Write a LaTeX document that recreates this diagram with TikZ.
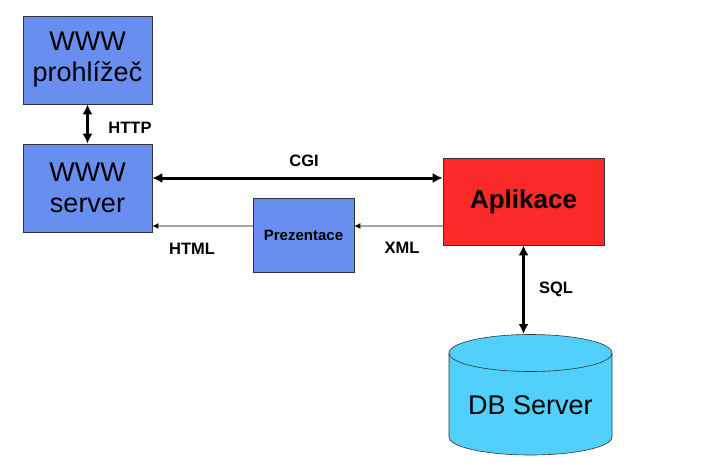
\documentclass[tikz,border=0pt]{standalone}
\usepackage{fontspec}
\setmainfont{Liberation Sans}
\usetikzlibrary{arrows.meta}
\usetikzlibrary{calc}
\usetikzlibrary{positioning}
\definecolor{cornflower}{RGB}{104, 142, 240}
\definecolor{scarlet}{RGB}{250, 42, 40}
\definecolor{skyblue}{RGB}{80, 208, 250}
\definecolor{silver}{RGB}{165, 165, 165}

\begin{document}
\begin{tikzpicture}[x=1pt, y=1pt,
    box/.style={draw=black!80, line width=0.6pt, inner sep=0pt, align=center},
    bigtext/.style={font=\fontsize{27}{31}\selectfont},
    tag/.style={font=\fontsize{16.5}{19}\selectfont\bfseries},
    thickarrow/.style={{Latex[length=10pt,width=10pt]}-{Latex[length=10pt,width=10pt]}, line width=3pt},
    thinarrow/.style={-{Latex[length=6pt,width=6pt,color=black]}, draw=silver, line width=1.3pt}]
            \useasboundingbox (0,0) rectangle (722,-464);
            % boxes
            \node[box, fill=cornflower, minimum width=129, minimum height=88, bigtext]        (browser)   at ( 87.5, -60.0) {WWW\\prohlížeč};
            \node[box, fill=cornflower, minimum width=129, minimum height=88, bigtext]        (webserver) at ( 87.5,-188.0) {WWW\\server};
            \node[box, fill=cornflower, minimum width=101, minimum height=74, font=\fontsize{15}{17}\selectfont\bfseries]
                                                                                              (prez)      at (303.5,-235.0) {Prezentace};
            \node[box, fill=scarlet,    minimum width=161, minimum height=87, font=\fontsize{26}{30}\selectfont\bfseries]
                                                                                              (app)       at (523.5,-201.5) {Aplikace};
            % database cylinder
            \filldraw[draw=black!80, fill=skyblue, line width=0.6pt]
                 (449,-353) -- (449,-437) arc (180:360:81.5 and 18) -- (612,-353) arc (0:180:81.5 and 18.5) -- cycle;
            \draw[draw=black!80, line width=0.6pt] (449,-353) arc (180:360:81.5 and 18.5);
            \node[bigtext]                                                                    (db)        at (530.5,-405.0) {DB Server};
            \coordinate (dbtop)  at (523.5,-334);
            \coordinate (cgirow) at (0,-178);
            \coordinate (xmlrow) at (0,-226);
            % connectors
            \draw[thickarrow] (browser.south) -- (webserver.north);
            \draw[thickarrow] (webserver.east |- cgirow) -- (app.west |- cgirow);
            \draw[thinarrow]  (prez.west |- xmlrow) -- (webserver.east |- xmlrow);
            \draw[thinarrow]  (app.west |- xmlrow) -- (prez.east |- xmlrow);
            \draw[thickarrow] (app.south) -- (dbtop);
            % labels
            \node[tag] (httplbl) at (130,-128) {HTTP};
            \node[tag] (cgilbl)  at (304,-161) {CGI};
            \node[tag] (htmllbl) at (192,-249) {HTML};
            \node[tag] (xmllbl)  at (402,-248) {XML};
            \node[tag] (sqllbl)  at (556,-289) {SQL};
\end{tikzpicture}
\end{document}
